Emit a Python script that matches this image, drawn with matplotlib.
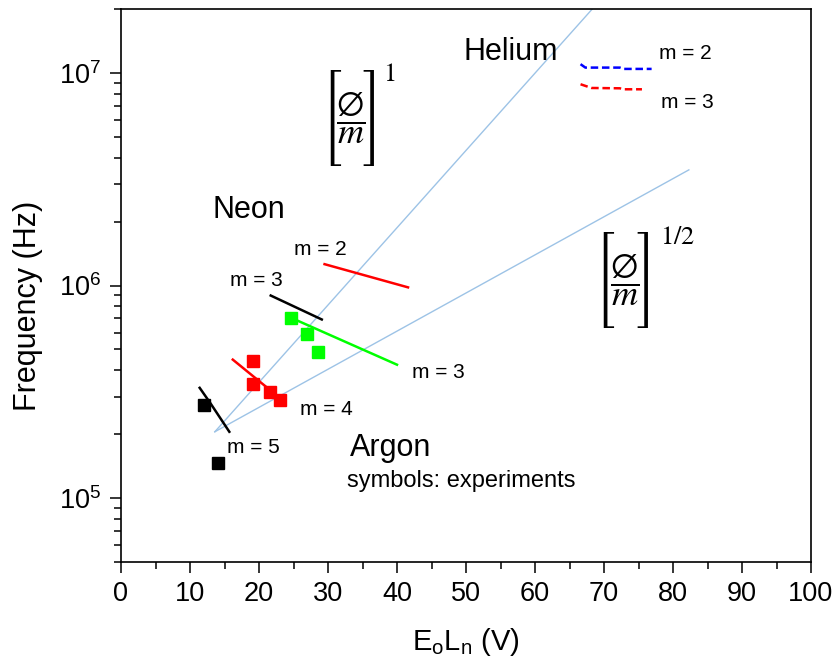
import numpy as np
import matplotlib
matplotlib.use('Agg')
import matplotlib.pyplot as plt
from matplotlib.ticker import LogLocator, MultipleLocator, NullFormatter

plt.rcParams['font.family'] = ['Liberation Sans', 'DejaVu Sans']
plt.rcParams['mathtext.default'] = 'regular'

# model lines (light blue), power 1 and power 1/2
model1_x = [13.6, 68.3]
model1_y = [2.05e5, 2.0e7]
model2_x = [13.6, 82.3]
model2_y = [2.05e5, 3.5e6]

# Neon
ne_m2_x = [29.5, 41.6]
ne_m2_y = [1.26e6, 9.8e5]
ne_m3_x = [21.7, 29.1]
ne_m3_y = [8.97e5, 6.92e5]

# Argon
ar_m3_x = [24.6, 40.0]
ar_m3_y = [7.06e5, 4.24e5]
ar_m3_exp_x = [24.6, 27.0, 28.5]
ar_m3_exp_y = [7.06e5, 5.94e5, 4.89e5]
ar_m4_x = [16.2, 23.5]
ar_m4_y = [4.48e5, 2.87e5]
ar_m4_exp_x = [19.1, 19.1, 21.6, 23.0]
ar_m4_exp_y = [4.43e5, 3.45e5, 3.16e5, 2.9e5]
ar_m5_x = [11.4, 13.0, 15.7]
ar_m5_y = [3.3e5, 2.78e5, 2.05e5]
ar_m5_exp_x = [12.1, 14.1]
ar_m5_exp_y = [2.75e5, 1.46e5]

# Helium (dashed)
he_m2_x = [66.6, 67.3, 72.3, 72.8, 76.9]
he_m2_y = [1.1e7, 1.06e7, 1.06e7, 1.045e7, 1.045e7]
he_m3_x = [66.6, 68.2, 72.3, 72.8, 75.5]
he_m3_y = [8.85e6, 8.5e6, 8.47e6, 8.38e6, 8.38e6]

fig = plt.figure(figsize=(8.37, 6.67), dpi=100)
ax = fig.add_axes([121/837, 1-562/667, 690/837, 553/667])

lb = '#9DC3E6'
ax.semilogy(model1_x, model1_y, color=lb, lw=1.0)
ax.semilogy(model2_x, model2_y, color=lb, lw=1.0)

ax.plot(ne_m2_x, ne_m2_y, color='#FF0000', lw=1.8)
ax.plot(ne_m3_x, ne_m3_y, color='black', lw=1.8)

ax.plot(ar_m3_x, ar_m3_y, color='#00FF00', lw=1.8)
ax.plot(ar_m3_exp_x, ar_m3_exp_y, 's', color='#00FF00', ms=8)
ax.plot(ar_m4_x, ar_m4_y, color='#FF0000', lw=1.8)
ax.plot(ar_m4_exp_x, ar_m4_exp_y, 's', color='#FF0000', ms=8)
ax.plot(ar_m5_x, ar_m5_y, color='black', lw=1.8)
ax.plot(ar_m5_exp_x, ar_m5_exp_y, 's', color='black', ms=8)

ax.plot(he_m2_x, he_m2_y, color='#0000FF', lw=1.8, ls=(0, (3, 1.5)))
ax.plot(he_m3_x, he_m3_y, color='#FF0000', lw=1.8, ls=(0, (3, 1.5)))

ax.set_xlim(0, 100)
ax.set_ylim(5e4, 2e7)
ax.xaxis.set_major_locator(MultipleLocator(10))
ax.xaxis.set_minor_locator(MultipleLocator(5))
ax.yaxis.set_major_locator(LogLocator(base=10))
ax.yaxis.set_minor_locator(LogLocator(base=10, subs=np.arange(2, 10)))
ax.yaxis.set_minor_formatter(NullFormatter())
ax.tick_params(which='major', direction='out', length=8, width=1.1, labelsize=19.5, pad=6)
ax.tick_params(which='minor', direction='out', length=5, width=1.1)
for s in ax.spines.values():
    s.set_linewidth(1.2)

fig.text(28/837, 1-306/667, 'Frequency (Hz)', rotation=90, ha='center', va='center', fontsize=22)
fig.text(412/837, 1-650/667, r'E$_\mathregular{o}$L$_\mathregular{n}$ (V)', ha='left', va='baseline', fontsize=21)

ax.text(56.5, 1.26e7, 'Helium', ha='center', va='center', fontsize=22)
ax.text(18.6, 2.26e6, 'Neon', ha='center', va='center', fontsize=22)
ax.text(33.2, 1.72e5, 'Argon', ha='left', va='center', fontsize=22)
ax.text(32.8, 1.2e5, 'symbols: experiments', ha='left', va='center', fontsize=17)

ms = 15
ax.text(25.1, 1.48e6, 'm = 2', ha='left', va='center', fontsize=ms)
ax.text(15.8, 1.06e6, 'm = 3', ha='left', va='center', fontsize=ms)
ax.text(42.2, 3.89e5, 'm = 3', ha='left', va='center', fontsize=ms)
ax.text(25.9, 2.6e5, 'm = 4', ha='left', va='center', fontsize=ms)
ax.text(15.4, 1.72e5, 'm = 5', ha='left', va='center', fontsize=ms)
ax.text(78.0, 1.24e7, 'm = 2', ha='left', va='center', fontsize=ms)
ax.text(78.3, 7.3e6, 'm = 3', ha='left', va='center', fontsize=ms)

# formulas [Ø/m]^1 and [Ø/m]^(1/2): tall thin brackets from the STIX size font
frac = r'$\dfrac{\emptyset}{\mathit{m}}$'
bracket_font = 'STIXSizeThreeSym'
for xl, xc, xr, yc, xe, ye, expo in [(30.4, 33.3, 36.4, 6.14e6, 38.8, 9.9e6, '1'),
                                     (70.0, 73.0, 76.1, 1.06e6, 80.7, 1.70e6, '1/2')]:
    ax.text(xl, yc, '[', ha='center', va='center', fontsize=28, family=bracket_font)
    ax.text(xr, yc, ']', ha='center', va='center', fontsize=28, family=bracket_font)
    ax.text(xc, yc, frac, ha='center', va='center', fontsize=26, math_fontfamily='stix')
    ax.text(xe, ye, r'$\mathrm{%s}$' % expo, ha='center', va='center', fontsize=19,
            math_fontfamily='stix')

fig.savefig('out.png', dpi=100)
